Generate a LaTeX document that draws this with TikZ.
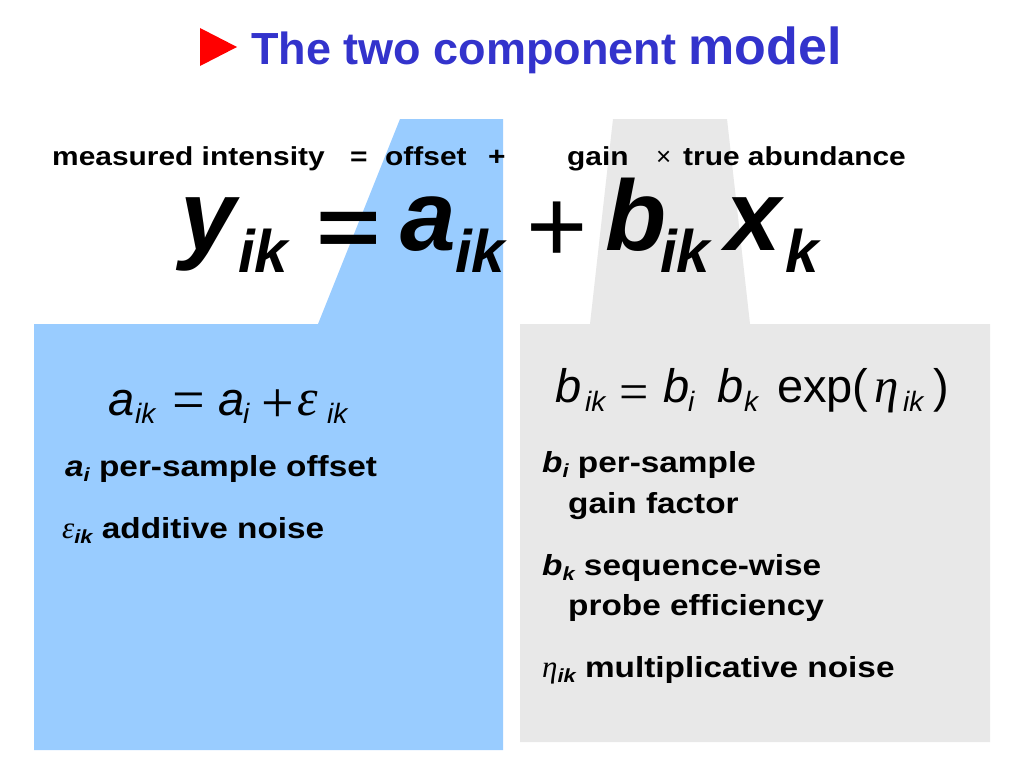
\documentclass[tikz,border=0pt]{standalone}
\usepackage{fontspec}
\setmainfont{Liberation Sans}
\newfontfamily\widesans[FakeStretch=1.15]{Liberation Sans}
\newfontfamily\symfont{Liberation Serif}
\usepackage{tikz}
\definecolor{titleblue}{RGB}{51,51,204}
\definecolor{offsetblue}{RGB}{153,204,255}
\definecolor{gaingray}{RGB}{232,232,232}
\newcommand{\lsub}[1]{\raisebox{-5pt}{\fontsize{19}{19}\selectfont\itshape #1}}

\begin{document}
\begin{tikzpicture}[x=1pt,y=-1pt,
	txt/.style={anchor=base west,inner sep=0},
	toplbl/.style={txt,font=\widesans\bfseries\fontsize{26}{26}\selectfont},
	bodylbl/.style={txt,font=\widesans\bfseries\fontsize{29}{29}\selectfont},
	big/.style={txt,font=\fontsize{100}{100}\selectfont\bfseries\itshape},
	bigsub/.style={txt,font=\fontsize{60}{60}\selectfont\bfseries\itshape},
	eq/.style={txt,font=\fontsize{47}{47}\selectfont\itshape},
	eqsub/.style={txt,font=\fontsize{28}{28}\selectfont\itshape},
	eqsym/.style={txt,font=\symfont\fontsize{58}{58}\selectfont},
	greek/.style={txt,font=\symfont\itshape\fontsize{52}{52}\selectfont}]
	\fill[white] (0,0) rectangle (1024,768);
	\useasboundingbox (0,0) rectangle (1024,768);
	% the two backgrounds
	\fill[offsetblue] (400,119) -- (503,119) -- (503,750) -- (34,750) -- (34,324) -- (318,324) -- cycle;
	\fill[gaingray] (613,119) -- (727,119) -- (750,324) -- (990,324) -- (990,742) -- (520,742) -- (520,324) -- (590,324) -- cycle;
	% title
	\fill[red] (200,28) -- (237,47) -- (200,66) -- cycle;
	\node[txt,font=\bfseries\fontsize{45}{45}\selectfont,text=titleblue] (title) at (251,64) {The two component {\fontsize{52}{52}\selectfont model}};
	% words
	\node[toplbl] (meas) at (52,165) {measured intensity};
	\node[toplbl] (weq) at (350,165) {=};
	\node[toplbl] (off) at (385,165) {offset};
	\node[toplbl] (wplus) at (488,165) {+};
	\node[toplbl] (gain) at (567,165) {gain};
	\node[txt,font=\fontsize{26}{26}\selectfont] (wtimes) at (656,165) {×};
	\node[toplbl] (abund) at (683,165) {true abundance};
	% the model
	\node[big] (y) at (180,250) {y};
	\node[bigsub] (yik) at (238,272) {ik};
	\node[txt,font=\fontsize{85}{85}\selectfont\bfseries] (beq) at (316,256) {\scalebox{1.3}[1]{=}};
	\node[big] (a) at (400,250) {a};
	\node[bigsub] (aik) at (455,272) {ik};
	\node[txt,font=\fontsize{105}{105}\selectfont] (bplus) at (526,262) {+};
	\node[big] (b) at (605,250) {b};
	\node[bigsub] (bik) at (660,272) {ik};
	\node[big] (x) at (725,250) {x};
	\node[bigsub] (xk) at (785,272) {k};
	% offset side
	\node[eq] (la) at (108,415) {a};
	\node[eqsub] (laik) at (135,423) {ik};
	\node[eqsym] (leq) at (172,419) {=};
	\node[eq] (lai) at (218,415) {a};
	\node[eqsub] (laisub) at (243,423) {i};
	\node[eqsym] (lplus) at (261,422) {+};
	\node[greek] (leps) at (297,415) {ε};
	\node[eqsub] (lepsik) at (327,423) {ik};
	\node[bodylbl] (ai) at (65,476) {\textit{a}\lsub{i} per-sample offset};
	\node[bodylbl] (epsik) at (62,538) {{\symfont\mdseries\itshape\fontsize{31}{31}\selectfont ε}\lsub{ik} additive noise};
	% gain side
	\node[eq] (rb) at (555,402) {b};
	\node[eqsub] (rbik) at (585,411) {ik};
	\node[eqsym,font=\symfont\fontsize{52}{52}\selectfont] (req) at (619,409) {=};
	\node[eq] (rbi) at (663,402) {b};
	\node[eqsub] (rbisub) at (688,411) {i};
	\node[eq] (rbk) at (717,402) {b};
	\node[eqsub] (rbksub) at (744,411) {k};
	\node[txt,font=\fontsize{47}{47}\selectfont] (rexp) at (777,402) {exp(};
	\node[greek,font=\symfont\itshape\fontsize{49}{49}\selectfont] (reta) at (874,402) {η};
	\node[eqsub] (retaik) at (903,411) {ik};
	\node[txt,font=\fontsize{47}{47}\selectfont] (rpar) at (933,402) {)};
	\node[bodylbl] (bi) at (542,472) {\textit{b}\lsub{i} per-sample};
	\node[bodylbl] (bifac) at (568,513) {gain factor};
	\node[bodylbl] (bk) at (542,575) {\textit{b}\lsub{k} sequence-wise};
	\node[bodylbl] (bkeff) at (568,615) {probe efficiency};
	\node[bodylbl] (etaik) at (542,677) {{\symfont\mdseries\itshape\fontsize{31}{31}\selectfont η}\lsub{ik} multiplicative noise};
\end{tikzpicture}
\end{document}
